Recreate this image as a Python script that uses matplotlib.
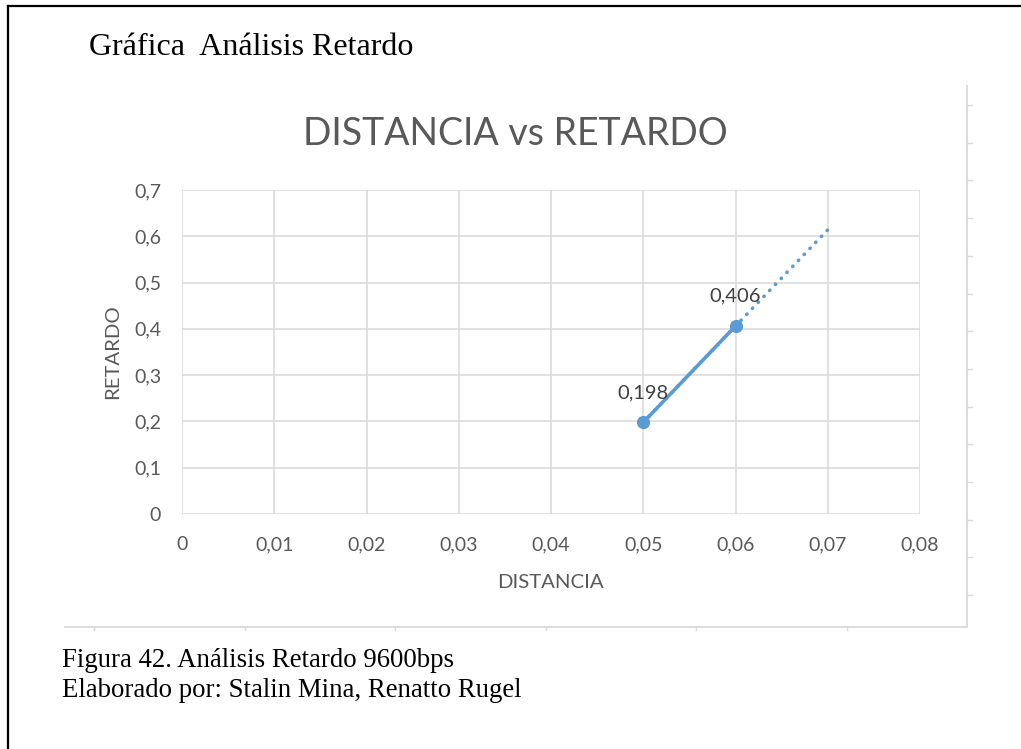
import numpy as np
import matplotlib
matplotlib.use("Agg")
import matplotlib.pyplot as plt
from matplotlib.lines import Line2D

# Measured data
distancia = [0.05, 0.06]
retardo = [0.198, 0.406]
etiquetas = ["0,198", "0,406"]

x_ticks = [0, 0.01, 0.02, 0.03, 0.04, 0.05, 0.06, 0.07, 0.08]
x_tick_labels = ["0", "0,01", "0,02", "0,03", "0,04", "0,05", "0,06", "0,07", "0,08"]
y_ticks = [0, 0.1, 0.2, 0.3, 0.4, 0.5, 0.6, 0.7]
y_tick_labels = ["0", "0,1", "0,2", "0,3", "0,4", "0,5", "0,6", "0,7"]

# Linear trendline, forecast forward by 0.01
pronostico = 0.01

W, H = 1021, 749
fig = plt.figure(figsize=(W / 100, H / 100), dpi=100)
fig.patch.set_facecolor("white")

def px(x, y):
    return x / W, 1 - y / H

ax_left, ax_top, ax_right, ax_bottom = 182, 190, 920, 514
ax = fig.add_axes([ax_left / W, 1 - ax_bottom / H,
                   (ax_right - ax_left) / W, (ax_bottom - ax_top) / H])

blue = "#5B9BD5"
grid = "#D9D9D9"
txt = "#595959"
sans = ["Lato", "DejaVu Sans"]
serif = ["Liberation Serif", "DejaVu Serif"]

# Trendline
coef = np.polyfit(distancia, retardo, 1)
xt = np.array([min(distancia), max(distancia) + pronostico])
ax.plot(xt, np.polyval(coef, xt), linestyle=(0, (0.1, 2.2)), dash_capstyle="round",
        color=blue, linewidth=2.6, zorder=2)

# Series
ax.plot(distancia, retardo, color=blue, linewidth=2.6, marker="o",
        markersize=8.5, solid_capstyle="round", zorder=3)
for x, y, s in zip(distancia, retardo, etiquetas):
    ax.annotate(s, (x, y), xytext=(0, 17.5), textcoords="offset points",
                ha="center", va="baseline", fontsize=14.5, color="#404040",
                family=sans)

ax.set_xlim(0, 0.08)
ax.set_ylim(0, 0.7)
ax.set_xticks(x_ticks)
ax.set_xticklabels(x_tick_labels)
ax.set_yticks(y_ticks)
ax.set_yticklabels(y_tick_labels)
ax.grid(True, color=grid, linewidth=1.1)
ax.set_axisbelow(True)
for s in ax.spines.values():
    s.set_visible(False)
ax.tick_params(length=0, labelsize=14, labelcolor=txt, pad=0)
ax.tick_params(axis="x", pad=16)
ax.tick_params(axis="y", pad=15)
for lab in ax.get_xticklabels() + ax.get_yticklabels():
    lab.set_family(sans)

fig.text(*px(113, 352), "RETARDO", rotation=90, ha="center", va="center",
         fontsize=14.7, color=txt, family=sans)
fig.text(*px(550, 588), "DISTANCIA", ha="center", va="baseline",
         fontsize=14.7, color=txt, family=sans)
fig.text(*px(515, 145), "DISTANCIA vs RETARDO", ha="center", va="baseline",
         fontsize=27, color=txt, family=sans)

# Chart frame with light tick marks
fx, fy_top, fy_bot, fx_left = 967, 86, 627, 65
fig.add_artist(Line2D([px(fx, 0)[0]] * 2, [px(0, fy_top)[1], px(0, fy_bot)[1]],
                      color=grid, linewidth=1.3))
fig.add_artist(Line2D([px(fx_left, 0)[0], px(fx, 0)[0]], [px(0, fy_bot)[1]] * 2,
                      color=grid, linewidth=1.3))
for k in range(14):
    y = 105 + 37.7 * k
    fig.add_artist(Line2D([px(fx, 0)[0], px(fx + 5, 0)[0]], [px(0, y)[1]] * 2,
                          color=grid, linewidth=1.0))
for k in range(6):
    x = 94 + 150.6 * k
    fig.add_artist(Line2D([px(x, 0)[0]] * 2, [px(0, fy_bot)[1], px(0, fy_bot + 3)[1]],
                          color=grid, linewidth=1.0))

# Page border
fig.add_artist(Line2D([px(8, 0)[0]] * 2, [px(0, 6)[1], 0], color="black", linewidth=1.6))
fig.add_artist(Line2D([px(8, 0)[0], 1], [px(0, 6)[1]] * 2, color="black", linewidth=1.6))

# Document text
fig.text(*px(89, 55), "Gráfica  Análisis Retardo", ha="left", va="baseline",
         fontsize=23, color="black", family=serif)
fig.text(*px(62, 667), "Figura 42. Análisis Retardo 9600bps", ha="left", va="baseline",
         fontsize=19.3, color="black", family=serif)
fig.text(*px(62, 697), "Elaborado por: Stalin Mina, Renatto Rugel", ha="left", va="baseline",
         fontsize=19.3, color="black", family=serif)

fig.savefig("out.png", dpi=100, facecolor="white")
